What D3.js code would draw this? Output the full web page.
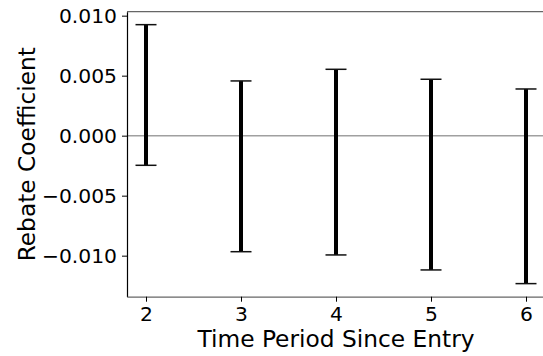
<!DOCTYPE html>
<html>
<head>
<meta charset="utf-8">
<script src="https://cdn.jsdelivr.net/npm/d3@7"></script>
<style>
  body { margin: 0; background: #fff; }
  svg { display: block; font-family: "DejaVu Sans", sans-serif; }
</style>
</head>
<body>
<div id="chart"></div>
<script>
// data
const periods = [2, 3, 4, 5, 6];
const lower = [-0.00247, -0.00967, -0.00994, -0.01119, -0.01233];
const upper = [0.00925, 0.00456, 0.00553, 0.0047, 0.00389];
const yTicks = [-0.010, -0.005, 0.000, 0.005, 0.010];

const WIDTH = 543, HEIGHT = 356;
const margins = { top: 11.7, left: 127, bottom: 59.3, right: -2 };
const width = WIDTH - margins.left - margins.right,
    height = HEIGHT - margins.top - margins.bottom;

const svg = d3.select("#chart")
    .append("svg")
    .attr("width", WIDTH)
    .attr("height", HEIGHT);

const x = d3.scaleLinear().domain([1.8, 6.2]).range([0, width]);
const y = d3.scaleLinear().domain([-0.01342, 0.01033]).range([height, 0]);

const g = svg.append("g")
    .attr("transform", `translate(${margins.left}, ${margins.top})`);

// zero line
g.append("line")
    .attr("x1", 0).attr("x2", width)
    .attr("y1", y(0)).attr("y2", y(0))
    .attr("stroke", "#a0a0a0")
    .attr("stroke-width", 1.5);

// error bars
const bars = g.selectAll(".bar")
    .data(periods.map((p, i) => ({ p, lo: lower[i], hi: upper[i] })))
    .join("g")
    .attr("class", "bar");

bars.append("line")
    .attr("x1", d => x(d.p)).attr("x2", d => x(d.p))
    .attr("y1", d => y(d.lo)).attr("y2", d => y(d.hi))
    .attr("stroke", "#000")
    .attr("stroke-width", 4);

const capW = 10.5;
["lo", "hi"].forEach(k => {
    bars.append("line")
        .attr("x1", d => x(d.p) - capW).attr("x2", d => x(d.p) + capW)
        .attr("y1", d => y(d[k])).attr("y2", d => y(d[k]))
        .attr("stroke", "#111")
        .attr("stroke-width", 1.5);
});

// frame
g.append("line")
    .attr("x1", 0).attr("x2", width).attr("y1", 0).attr("y2", 0)
    .attr("stroke", "#666").attr("stroke-width", 1.2);

const fmt = d => d3.format(".3f")(d).replace("-", "\u2212");

const yAxis = g.append("g")
    .call(d3.axisLeft(y).tickValues(yTicks).tickFormat(fmt)
        .tickSizeInner(5).tickSizeOuter(0).tickPadding(5));
const xAxis = g.append("g")
    .attr("transform", `translate(0, ${height})`)
    .call(d3.axisBottom(x).tickValues(periods).tickFormat(d3.format("d"))
        .tickSizeInner(5).tickSizeOuter(0).tickPadding(5));

yAxis.select(".domain").attr("stroke", "#000").attr("stroke-width", 1.2);
xAxis.select(".domain").attr("stroke", "#666").attr("stroke-width", 1.2);
[yAxis, xAxis].forEach(a => {
    a.selectAll(".tick line").attr("stroke", "#000").attr("stroke-width", 1);
    a.selectAll(".tick text")
        .attr("font-size", 20.3)
        .attr("font-family", "DejaVu Sans")
        .attr("fill", "#000");
});

svg.append("text")
    .attr("x", margins.left + x(4))
    .attr("y", 347)
    .attr("text-anchor", "middle")
    .attr("font-size", 23.3)
    .text("Time Period Since Entry");

svg.append("text")
    .attr("transform", `translate(35, ${margins.top + height / 2}) rotate(-90)`)
    .attr("text-anchor", "middle")
    .attr("font-size", 23.3)
    .text("Rebate Coefficient");
</script>
</body>
</html>
